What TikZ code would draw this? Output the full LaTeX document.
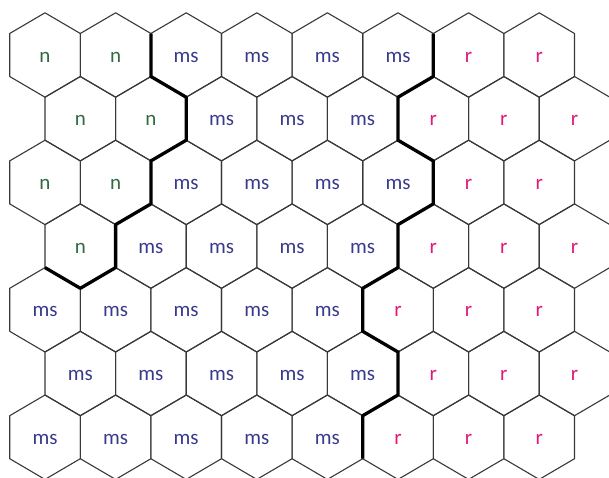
\documentclass[tikz,border=0pt]{standalone}
\usepackage{fontspec}
\setmainfont{Carlito}
\definecolor{coln}{HTML}{2E6B3E}
\definecolor{colms}{HTML}{3A3A8C}
\definecolor{colr}{HTML}{E0197A}
\begin{document}
\begin{tikzpicture}[x=1pt,y=-1pt,line join=round,
    hexline/.style={draw=black!78,line width=1.1pt},
    border/.style={draw=black,line width=3.3pt},
    lab/.style={font=\fontsize{21}{24}\selectfont,inner sep=0pt}]
  \useasboundingbox (0,0) rectangle (609,477);
  \clip (0,0) rectangle (609,477);
  \foreach \r/\labs in {1/{n,n,ms,ms,ms,ms,r,r},2/{n,n,ms,ms,ms,r,r,r},3/{n,n,ms,ms,ms,ms,r,r},
      4/{n,ms,ms,ms,ms,r,r,r},5/{ms,ms,ms,ms,ms,r,r,r},6/{ms,ms,ms,ms,ms,r,r,r},7/{ms,ms,ms,ms,ms,r,r,r}}{
    \pgfmathsetmacro\cy{55+63.7*(\r-1)}
    \pgfmathsetmacro\xo{45+35.3*mod(\r+1,2)}
    \foreach \t [count=\c] in \labs {
      \pgfmathsetmacro\cx{\xo+70.6*(\c-1)}
      \draw[hexline] (\cx,\cy-42.2) -- (\cx+35.3,\cy-21.5) -- (\cx+35.3,\cy+21.5) -- (\cx,\cy+42.2)
        -- (\cx-35.3,\cy+21.5) -- (\cx-35.3,\cy-21.5) -- cycle;
      \node[lab,text=col\t] (h\r-\c) at (\cx,\cy+2) {\t};
    }
  }
  \draw[border] (150.9,33.5) -- (150.9,76.5) -- (186.2,97.2) -- (186.2,140.2) -- (150.9,160.9) -- (150.9,203.9)
    -- (115.6,224.6) -- (115.6,267.6) -- (80.3,288.3) -- (45,267.6);
  \draw[border] (433.3,33.5) -- (433.3,76.5) -- (398,97.2) -- (398,140.2) -- (433.3,160.9) -- (433.3,203.9)
    -- (398,224.6) -- (398,267.6) -- (362.7,288.3) -- (362.7,331.3) -- (398,352) -- (398,395)
    -- (362.7,415.7) -- (362.7,458.7);
\end{tikzpicture}
\end{document}
